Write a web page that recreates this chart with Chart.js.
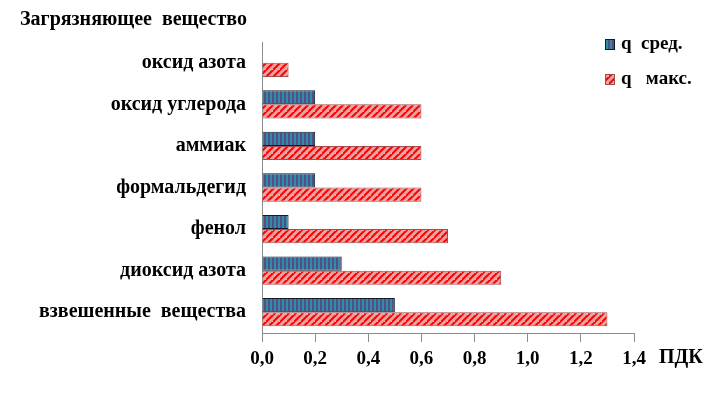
<!DOCTYPE html>
<html>
<head>
<meta charset="utf-8">
<script src="https://cdn.jsdelivr.net/npm/chart.js@4"></script>
<style>
  html, body { margin: 0; padding: 0; background: #fff; }
  #wrap { width: 710px; height: 393px; position: relative; }
</style>
</head>
<body>
<div id="wrap"><canvas id="chart" width="710" height="393"></canvas></div>
<script>
  const categories = [
    'оксид азота',
    'оксид углерода',
    'аммиак',
    'формальдегид',
    'фенол',
    'диоксид азота',
    'взвешенные  вещества'
  ];
  const seriesNames = ['q  сред.', 'q   макс.'];
  const qAvg = [0, 0.2, 0.2, 0.2, 0.1, 0.3, 0.5];
  const qMax = [0.1, 0.6, 0.6, 0.6, 0.7, 0.9, 1.3];
  const xTicks = [0, 0.2, 0.4, 0.6, 0.8, 1.0, 1.2, 1.4];
  const yTitle = 'Загрязняющее  вещество';
  const xTitle = 'ПДК';

  const FONT = '"Liberation Serif", "Times New Roman", serif';

  function bluePattern() {
    const c = document.createElement('canvas');
    c.width = 4; c.height = 1;
    const g = c.getContext('2d');
    g.fillStyle = '#524e88';
    g.fillRect(0, 0, 4, 1);
    g.fillStyle = '#328ca6';
    g.fillRect(2, 0, 2, 1);
    return g.createPattern(c, 'repeat');
  }

  function redPattern() {
    const s = 7;
    const c = document.createElement('canvas');
    c.width = s; c.height = s;
    const g = c.getContext('2d');
    g.fillStyle = '#eba2a2';
    g.fillRect(0, 0, s, s);
    g.strokeStyle = '#ff0000';
    g.lineWidth = 2;
    g.beginPath();
    g.moveTo(-1, s + 1); g.lineTo(s + 1, -1);
    g.moveTo(-1 - s, s + 1); g.lineTo(1, -1);
    g.moveTo(s - 1, 2 * s + 1); g.lineTo(2 * s + 1, s - 1);
    g.stroke();
    return g.createPattern(c, 'repeat');
  }

  const fills = [bluePattern(), redPattern()];
  const borders = ['#141a26', '#a84a4a'];

  const extras = {
    id: 'extras',
    afterDraw(chart) {
      const ctx = chart.ctx;
      ctx.save();
      ctx.fillStyle = '#000';
      ctx.font = 'bold 20px ' + FONT;
      ctx.textBaseline = 'middle';
      ctx.textAlign = 'left';
      ctx.fillText(yTitle, 20, 20);
      ctx.font = 'bold 20px ' + FONT;
      ctx.fillText(xTitle, 659, 358);

      // legend
      const rows = [44, 79];
      seriesNames.forEach((name, i) => {
        ctx.fillStyle = fills[i];
        ctx.fillRect(605, rows[i] - 5, 9, 10);
        ctx.strokeStyle = borders[i];
        ctx.lineWidth = 1;
        ctx.strokeRect(605.5, rows[i] - 4.5, 9, 10);
        ctx.fillStyle = '#000';
        ctx.font = 'bold 19px ' + FONT;
        ctx.fillText(name, 621, rows[i]);
      });
      ctx.restore();
    }
  };

  new Chart(document.getElementById('chart'), {
    type: 'bar',
    data: {
      labels: categories,
      datasets: [
        {
          label: seriesNames[0],
          data: qAvg,
          backgroundColor: fills[0],
          borderColor: borders[0],
          borderWidth: 1,
          categoryPercentage: 0.68,
          barPercentage: 1.0
        },
        {
          label: seriesNames[1],
          data: qMax,
          backgroundColor: fills[1],
          borderColor: borders[1],
          borderWidth: 1,
          categoryPercentage: 0.68,
          barPercentage: 1.0
        }
      ]
    },
    options: {
      indexAxis: 'y',
      responsive: false,
      animation: false,
      layout: { padding: { top: 42, right: 76, left: 0, bottom: 0 } },
      plugins: {
        legend: { display: false },
        tooltip: { enabled: false }
      },
      scales: {
        x: {
          min: 0,
          max: 1.4,
          afterBuildTicks: (scale) => {
            scale.ticks = xTicks.map((v) => ({ value: v }));
          },
          afterFit: (scale) => { scale.height = 60; },
          grid: {
            drawOnChartArea: false,
            tickLength: 9,
            color: '#8c8c8c'
          },
          border: { color: '#8c8c8c', width: 1 },
          ticks: {
            color: '#000',
            padding: 6,
            maxRotation: 0,
            font: { family: FONT, size: 19, weight: 'bold' },
            callback: (v) => Number(v).toFixed(1).replace('.', ',')
          }
        },
        y: {
          afterFit: (scale) => { scale.width = 262; },
          grid: { display: false, drawTicks: false },
          border: { color: '#8c8c8c', width: 1 },
          ticks: {
            color: '#000',
            padding: 16,
            font: { family: FONT, size: 20, weight: 'bold' }
          }
        }
      }
    },
    plugins: [extras]
  });
</script>
</body>
</html>
